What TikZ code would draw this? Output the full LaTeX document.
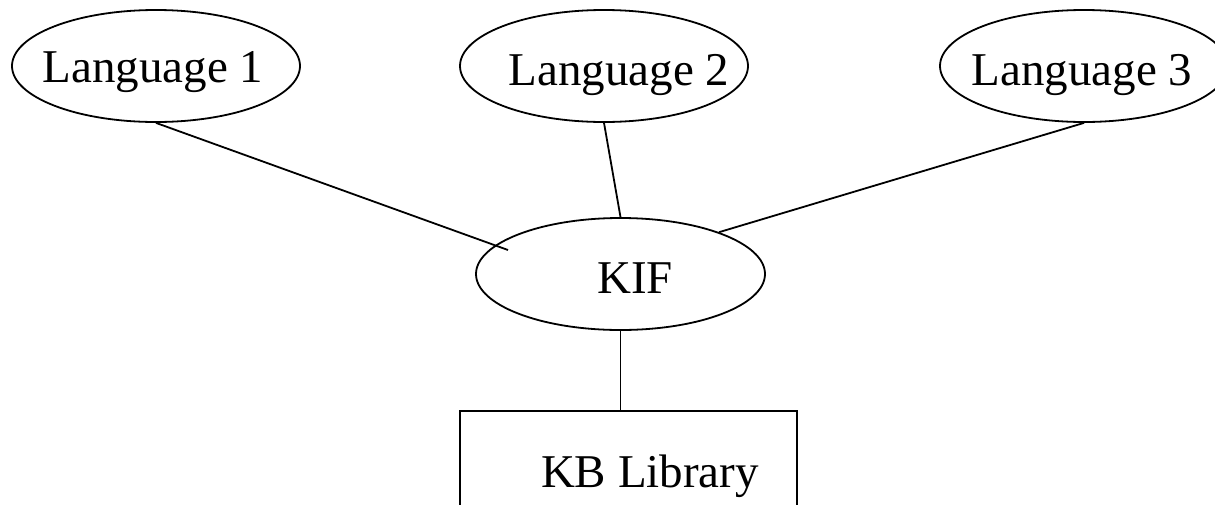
\documentclass[tikz,border=0pt]{standalone}
\usepackage{fontspec}
\setmainfont{Liberation Serif}
\usetikzlibrary{shapes.geometric}
\begin{document}
\begin{tikzpicture}[x=1pt,y=-1pt,line width=1.8pt,
  ell/.style={draw, ellipse, minimum width=288pt, minimum height=112pt, inner sep=0pt},
  lbl/.style={anchor=base, font=\fontsize{47}{50}\selectfont, inner sep=0pt},
  boxnode/.style={draw, minimum width=337pt, minimum height=200pt, inner sep=0pt, anchor=north}]
\useasboundingbox (0,0) rectangle (1215,504);
\clip (0,0) rectangle (1215,504);
% shapes
\node[ell] (l1) at (156,66) {};
\node[ell] (l2) at (604,66) {};
\node[ell] (l3) at (1084,66) {};
\node[ell, minimum width=289pt] (kif) at (620.5,274) {};
\node[boxnode] (kb) at (628.5,410) {};
% texts
\node[lbl] (t1) at (153,82) {Language 1};
\node[lbl] (t2) at (619,85) {Language 2};
\node[lbl] (t3) at (1082,85) {Language 3};
\node[lbl] (tk) at (635,293) {KIF};
\node[lbl] (tb) at (650,487) {KB Library};
% connectors
\coordinate (l1end) at (508,250);
\draw (l1.south) -- (l1end);
\draw (l2.south) -- (kif.north);
\draw (l3.south) -- (kif.23);
\draw (kif.south) -- (kif.south |- kb.north);
\end{tikzpicture}
\end{document}
